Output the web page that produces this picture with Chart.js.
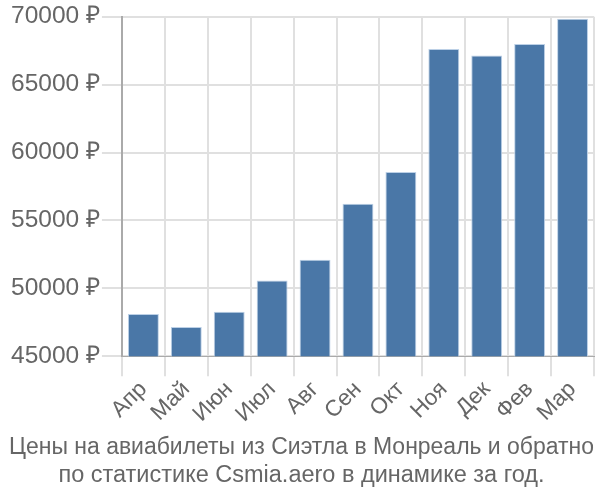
<!DOCTYPE html>
<html><head><meta charset="utf-8">
<script src="https://cdn.jsdelivr.net/npm/chart.js@4"></script>
<style>html,body{margin:0;padding:0;background:#fff}#wrap{width:600px;height:500px}</style>
</head><body><div id="wrap"><canvas id="c"></canvas></div>
<script>
const categories = ["Апр","Май","Июн","Июл","Авг","Сен","Окт","Ноя","Дек","Фев","Мар"];
const prices = [48100,47150,48270,50580,52100,56220,58570,67630,67150,67990,69850];
const yTicks = {min:45000, max:70000, step:5000};
const titleLines = ["Цены на авиабилеты из Сиэтла в Монреаль и обратно","по статистике Csmia.aero в динамике за год."];

Chart.defaults.font.family = '"Liberation Sans", Arial, sans-serif';
Chart.defaults.color = '#666';
new Chart(document.getElementById('c'), {
  type:'bar',
  data:{labels:categories, datasets:[{data:prices, backgroundColor:'#4a77a7', borderColor:'#bcd0e6', borderWidth:{top:1,left:1,right:1,bottom:0}}]},
  options:{
    responsive:true, maintainAspectRatio:false, animation:false,
    layout:{padding:{left:9,right:6,top:4,bottom:0}},
    plugins:{legend:{display:false}, tooltip:{enabled:false},
      title:{display:true, position:'bottom', text:titleLines, font:{size:23.5, weight:'normal'}, color:'#666', padding:{top:6,bottom:10}}},
    scales:{
      x:{grid:{color:'#e0e0e0', lineWidth:2, tickLength:20}, border:{color:'#aaa'},
         ticks:{font:{size:22.5}, color:'#666', maxRotation:45, minRotation:45, padding:0}},
      y:{min:yTicks.min, max:yTicks.max, grid:{color:'#e0e0e0', lineWidth:2, tickLength:20}, border:{color:'#aaa', width:2},
         ticks:{stepSize:yTicks.step, font:{size:24.5}, color:'#666', padding:2, callback:v=>v+' ₽'}}
    }
  }
});
</script></body></html>
